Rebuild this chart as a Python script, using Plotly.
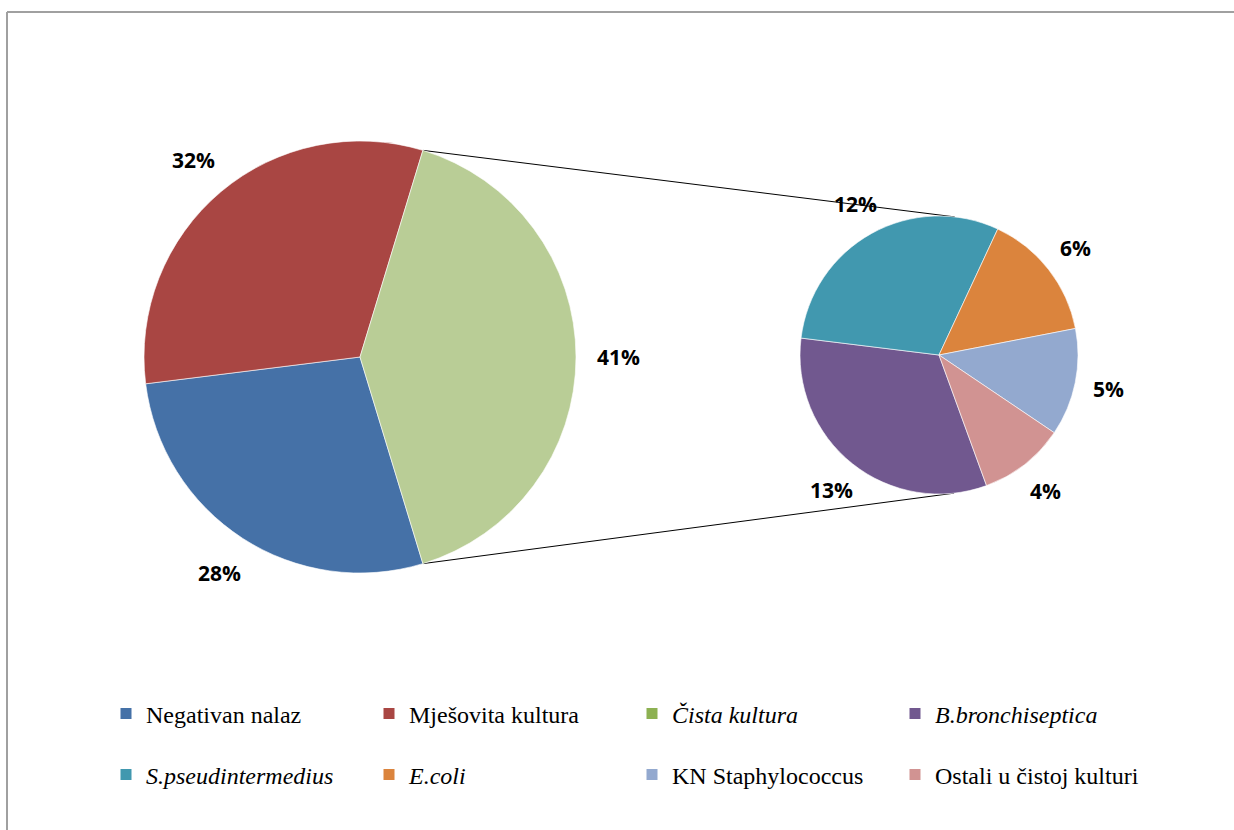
import math
import plotly.graph_objects as go

# ---------------- data ----------------
main_labels = ["Negativan nalaz", "Mješovita kultura", "<i>Čista kultura</i>"]
main_values = [28, 32, 41]
main_colors = ["#4571A7", "#A94643", "#B9CD96"]

sub_labels = ["<i>B.bronchiseptica</i>", "<i>S.pseudintermedius</i>", "<i>E.coli</i>",
              "KN Staphylococcus", "Ostali u čistoj kulturi"]
sub_values = [13, 12, 6, 5, 4]
sub_colors = ["#71588F", "#4198AF", "#DB843D", "#93A9CF", "#D19392"]

legend_row1 = ["Negativan nalaz", "Mješovita kultura", "<i>Čista kultura</i>", "<i>B.bronchiseptica</i>"]
legend_row1_colors = ["#4571A7", "#A94643", "#8DB152", "#71588F"]
legend_row2 = ["<i>S.pseudintermedius</i>", "<i>E.coli</i>", "KN Staphylococcus", "Ostali u čistoj kulturi"]
legend_row2_colors = ["#4198AF", "#DB843D", "#93A9CF", "#D19392"]

# ---------------- geometry (pixels) ----------------
W, H = 1234, 830
c1x, c1y, r1 = 360, 357, 216
c2x, c2y, r2 = 939, 355, 139
lab_off1, lab_off2 = 42, 34


def px2paper(x, y):
    return x / W, 1 - y / H


def dom(cx, cy, r):
    return dict(x=[(cx - r) / W, (cx + r) / W], y=[1 - (cy + r) / H, 1 - (cy - r) / H])


tot = sum(main_values)
sub_tot = sum(sub_values)
rot_main = 90 + 180 * main_values[2] / tot
rot_sub = 160

label_font = dict(family="Open Sans", size=21, color="black", weight=700)

fig = go.Figure()
fig.add_trace(go.Pie(
    labels=main_labels, values=main_values, sort=False, direction="clockwise",
    rotation=rot_main, domain=dom(c1x, c1y, r1),
    marker=dict(colors=main_colors, line=dict(color="white", width=0.6)),
    textinfo="none", showlegend=False, hoverinfo="label+percent",
))
fig.add_trace(go.Pie(
    labels=sub_labels, values=sub_values, sort=False, direction="clockwise",
    rotation=rot_sub, domain=dom(c2x, c2y, r2),
    marker=dict(colors=sub_colors, line=dict(color="white", width=0.6)),
    textinfo="none", showlegend=False, hoverinfo="label+value",
))

# legend entries
for name, col in zip(legend_row1, legend_row1_colors):
    fig.add_trace(go.Scatter(x=[None], y=[None], mode="markers", name=name,
                             marker=dict(symbol="square", size=11, color=col),
                             legend="legend"))
for name, col in zip(legend_row2, legend_row2_colors):
    fig.add_trace(go.Scatter(x=[None], y=[None], mode="markers", name=name,
                             marker=dict(symbol="square", size=11, color=col),
                             legend="legend2"))

# percentage labels, placed outside each slice along its mid-angle
annotations = []


def add_labels(values, total, rot, cx, cy, r, off, texts):
    acc = 0
    for v, t in zip(values, texts):
        mid = math.radians(rot + 360 * (acc + v / 2) / total)
        acc += v
        x = cx + (r + off) * math.sin(mid)
        y = cy - (r + off) * math.cos(mid)
        px, py = px2paper(x, y)
        annotations.append(dict(x=px, y=py, xref="paper", yref="paper", text=t,
                                showarrow=False, font=label_font,
                                xanchor="center", yanchor="middle"))


add_labels(main_values, tot, rot_main, c1x, c1y, r1, lab_off1,
           [f"{round(100 * v / tot)}%" for v in main_values])
add_labels(sub_values, sub_tot, rot_sub, c2x, c2y, r2, lab_off2,
           [f"{v}%" for v in sub_values])

# connector lines (from the split slice edges to the secondary pie)
a_start = math.radians(rot_main + 360 * (main_values[0] + main_values[1]) / tot)
a_end = math.radians(rot_main)
p_up = (c1x + r1 * math.sin(a_start), c1y - r1 * math.cos(a_start))
p_dn = (c1x + r1 * math.sin(a_end), c1y - r1 * math.cos(a_end))
q_up = (c2x + r2 * math.sin(math.radians(6.5)), c2y - r2 * math.cos(math.radians(6.5)))
q_dn = (c2x + r2 * math.sin(math.radians(173.8)), c2y - r2 * math.cos(math.radians(173.8)))

shapes = []
for p, q in [(p_up, q_up), (p_dn, q_dn)]:
    x0, y0 = px2paper(*p)
    x1, y1 = px2paper(*q)
    shapes.append(dict(type="line", xref="paper", yref="paper", x0=x0, y0=y0, x1=x1, y1=y1,
                       line=dict(color="black", width=1), layer="below"))

# outer frame (top and left edges)
fx, fy = px2paper(7, 12)
shapes.append(dict(type="line", xref="paper", yref="paper", x0=fx, y0=fy, x1=1.01, y1=fy,
                   line=dict(color="#A0A0A0", width=2)))
shapes.append(dict(type="line", xref="paper", yref="paper", x0=fx, y0=fy, x1=fx, y1=-0.01,
                   line=dict(color="#A0A0A0", width=2)))

legend_common = dict(
    orientation="h", xanchor="left", yanchor="middle",
    font=dict(family="Liberation Serif", size=24, color="black"),
    entrywidth=218, entrywidthmode="pixels", itemwidth=30,
    bgcolor="rgba(0,0,0,0)", traceorder="normal", itemclick=False, itemdoubleclick=False,
)

fig.update_layout(
    width=W, height=H,
    margin=dict(l=0, r=0, t=0, b=0),
    paper_bgcolor="white", plot_bgcolor="white",
    xaxis=dict(visible=False), yaxis=dict(visible=False),
    shapes=shapes, annotations=annotations,
    legend=dict(legend_common, x=106 / W, y=1 - 714 / H),
    legend2=dict(legend_common, x=106 / W, y=1 - 775 / H),
)

fig.write_html("out.html", config={"displayModeBar": False},
               post_script="document.body.style.margin='0';document.body.style.overflow='hidden';")
